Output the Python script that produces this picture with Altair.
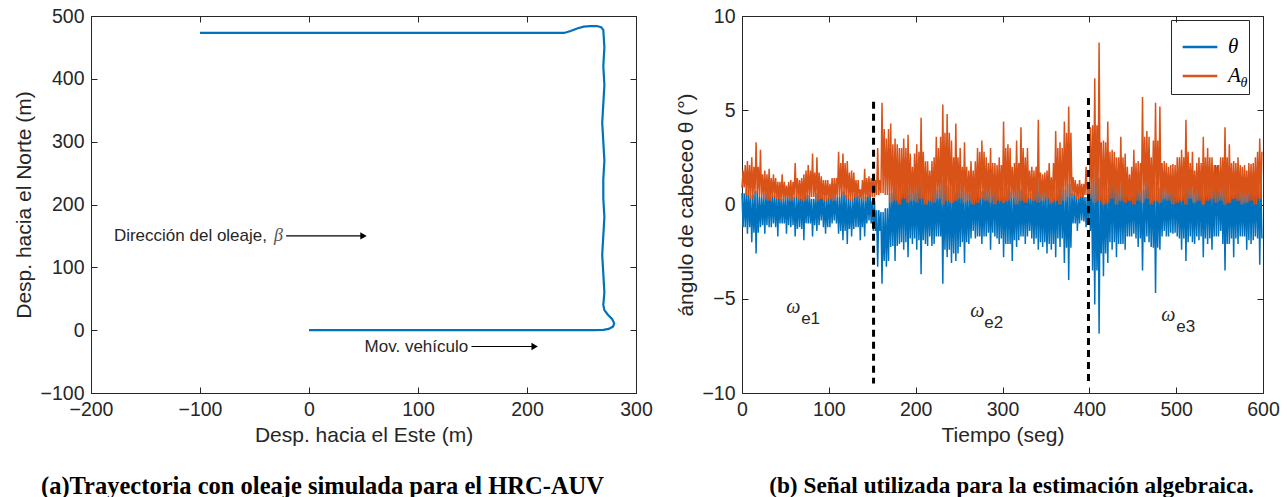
import altair as alt
import pandas as pd

# ---------------- Panel (a): trajectory ----------------
TRAJ_X = [0, 40, 80, 120, 160, 200, 240, 262, 270, 275, 279, 280, 278, 274, 271, 270,
          271, 270, 269, 270, 271, 270, 270, 271, 270, 269, 270, 271, 270, 271, 270, 268,
          264, 258, 252, 246, 240, 234, 200, 150, 100, 50, 0, -50, -100]
TRAJ_Y = [0, 0, 0, 0, 0, 0, 0, 0, 0.5, 2, 6, 11, 18, 25, 32, 40,
          60, 90, 120, 150, 180, 210, 240, 270, 300, 330, 360, 390, 420, 450, 478, 482,
          484, 484, 483, 480, 476, 473, 473, 473, 473, 473, 473, 473, 473]

ARROW_X1 = [-21, 149]
ARROW_X2 = [50, 207]
ARROW_Y = [150, -26]

# ---------------- Panel (b): pitch signal ----------------
# spike readings every 5 s (t = 0, 5, ..., 595)
A_HI = [1.8, 2.3, 2.5, 3.3, 2.9, 1.8, 1.9, 1.6, 1.2, 1.6,
        1.0, 1.3, 2.2, 1.3, 1.6, 2.1, 2.7, 2.5, 1.5, 1.3,
        1.1, 1.4, 2.8, 2.7, 2.3, 1.8, 1.3, 0.8, 1.9, 1.5,
        1.6, 3.0, 5.4, 3.5, 4.3, 3.5, 3.0, 3.5, 3.7, 2.0,
        3.2, 4.6, 2.3, 1.8, 2.5, 3.0, 5.3, 4.8, 3.4, 4.3,
        3.0, 3.3, 1.8, 1.8, 3.0, 3.4, 2.5, 3.0, 2.2, 2.5,
        4.4, 3.2, 2.0, 3.4, 4.1, 2.5, 1.8, 1.8, 4.5, 1.6,
        1.8, 1.45, 3.9, 3.3, 4.4, 5.2, 1.45, 1.1, 1.1, 2.0,
        4.1, 6.7, 8.6, 3.4, 4.4, 2.9, 2.5, 3.6, 2.7, 1.6,
        2.9, 2.3, 5.7, 3.9, 2.5, 5.4, 5.2, 2.3, 2.0, 2.15,
        2.5, 2.9, 4.5, 2.2, 1.8, 2.5, 3.6, 3.0, 2.5, 2.0,
        2.5, 4.1, 3.2, 2.3, 2.5, 2.0, 1.8, 2.15, 2.5, 3.5]
A_LO = [0.9, 0.5, 0.3, 0.6, 0.4, 0.3, 0.2, 0.4, 0.3, 0.2,
        0.3, 0.2, 0.4, 0.3, 0.2, 0.3, 0.4, 0.2, 0.3, 0.2,
        0.3, 0.2, 0.4, 0.5, 0.3, 0.2, 0.4, 0.3, 0.2, 0.4,
        0.4, 0.5, 0.6, 0.5, 0.1, 0.2, 0.0, 0.3, 0.1, 0.2,
        0.1, 0.3, 0.0, 0.2, 0.1, 0.3, 0.0, 0.2, 0.1, 0.2,
        0.3, 0.1, 0.2, 0.0, 0.1, 0.3, 0.2, 0.1, 0.0, 0.2,
        0.1, 0.2, 0.3, 0.0, 0.2, 0.1, 0.3, 0.2, 0.1, 0.2,
        0.3, 0.1, 0.2, 0.0, 0.2, 0.4, 0.5, 0.3, 0.4, 0.5,
        0.3, 0.1, 0.2, 0.0, 0.1, 0.3, 0.0, 0.2, 0.1, 0.2,
        0.0, 0.2, 0.1, 0.3, 0.0, 0.2, 0.1, 0.3, 0.2, 0.0,
        0.1, 0.2, 0.0, 0.3, 0.1, 0.2, 0.0, 0.2, 0.3, 0.1,
        0.2, 0.0, 0.1, 0.3, 0.2, 0.0, 0.1, 0.2, 0.0, 0.3]
TH_HI = [0.6, 0.8, 0.5, 0.7, 0.4, 0.6, 0.8, 0.5, 0.6, 0.3,
         0.5, 0.7, 0.4, 0.6, 0.8, 0.5, 0.3, 0.6, 0.7, 0.4,
         0.5, 0.6, 0.4, 0.7, 0.5, 0.3, 0.6, 0.5, 0.4, 0.6,
         0.2, -0.3, -0.4, -0.2, 0.6, 1.2, 0.9, 1.6, 1.0, 0.8,
         1.2, 1.5, 0.9, 0.7, 1.1, 0.8, 1.3, 1.0, 0.9, 1.4,
         1.0, 0.8, 0.6, 0.9, 1.2, 0.7, 1.0, 0.8, 1.3, 0.9,
         1.2, 0.9, 0.7, 1.0, 0.8, 1.1, 0.6, 0.9, 1.3, 0.8,
         0.7, 0.9, 1.0, 1.2, 0.8, 1.1, 0.6, 0.5, 0.7, 0.4,
         1.0, 1.8, 1.4, 1.2, 0.9, 2.1, 1.3, 1.0, 1.5, 0.9,
         1.1, 1.4, 0.8, 1.6, 1.0, 1.2, 0.9, 0.8, 1.1, 1.3,
         1.0, 0.9, 1.5, 1.1, 0.8, 1.2, 1.0, 1.3, 0.9, 2.1,
         1.0, 1.2, 0.9, 1.4, 1.1, 0.8, 1.0, 1.5, 1.2, 1.4]
TH_LO = [-1.2, -1.55, -2.0, -2.6, -1.2, -1.55, -1.2, -1.0, -1.7, -1.0,
         -1.55, -1.2, -1.7, -1.2, -1.9, -1.0, -1.7, -1.4, -0.85, -1.55,
         -1.2, -0.85, -1.55, -1.9, -2.1, -1.7, -1.2, -1.9, -1.7, -0.85,
         -1.4, -3.3, -4.2, -3.3, -2.25, -3.0, -2.1, -2.4, -2.8, -2.1,
         -2.4, -3.7, -2.1, -1.7, -2.1, -1.7, -4.2, -2.8, -3.1, -3.0,
         -2.25, -3.1, -2.1, -1.4, -1.7, -2.1, -1.7, -2.4, -1.7, -2.1,
         -2.8, -2.1, -3.0, -2.25, -1.7, -2.1, -1.4, -2.1, -2.4, -2.25,
         -2.6, -2.4, -2.8, -2.25, -3.1, -4.0, -1.0, -1.4, -0.85, -1.2,
         -1.4, -5.3, -6.85, -3.8, -3.1, -2.4, -2.8, -2.1, -2.4, -1.7,
         -1.55, -2.25, -3.5, -1.7, -2.25, -4.7, -2.4, -1.4, -1.7, -1.55,
         -1.7, -2.4, -3.0, -1.7, -2.1, -1.9, -2.8, -2.1, -2.4, -1.7,
         -1.4, -3.5, -2.1, -2.8, -2.1, -1.7, -2.4, -2.1, -1.7, -3.2]
# denser "core" extent of each band, read every 10 s (t = 0, 10, ..., 590)
TH_CORE = [-1.2, -1.5, -1.1, -1.2, -1.0, -1.1, -1.3, -1.0, -1.1, -1.2,
           -1.0, -1.4, -1.3, -1.2, -1.0, -1.4, -3.0, -2.2, -2.0, -1.8,
           -1.9, -2.2, -1.7, -2.4, -2.6, -2.0, -1.8, -1.7, -1.5, -1.8,
           -2.1, -1.9, -1.7, -1.8, -2.0, -2.1, -1.8, -2.3, -1.0, -0.9,
           -3.5, -2.6, -2.0, -2.1, -1.7, -1.8, -2.0, -2.3, -1.7, -1.5,
           -1.8, -2.0, -1.7, -1.8, -1.7, -2.1, -1.8, -1.7, -1.9, -1.8]
A_CORE = [2.1, 2.0, 1.6, 1.4, 1.2, 1.2, 1.4, 1.8, 1.7, 1.3,
          1.4, 2.2, 1.7, 1.3, 1.4, 1.3, 4.0, 3.2, 3.0, 2.7,
          2.8, 2.3, 3.6, 3.8, 2.5, 2.0, 2.3, 2.8, 2.2, 2.1,
          3.0, 2.2, 3.0, 2.0, 1.7, 2.2, 3.0, 3.8, 1.3, 1.1,
          4.2, 3.3, 2.8, 2.5, 2.0, 2.2, 3.6, 3.4, 2.2, 2.1,
          2.5, 2.8, 2.2, 2.5, 2.1, 2.5, 2.2, 2.1, 2.2, 2.8]
STEP = 5

DASH_T = [151.5, 399]
DASH_TOP = [5.45, 5.65]
DASH_BOT = [-9.5, -9.5]

OMEGA_T = [59, 271, 491]
OMEGA_V = [-5.45, -5.65, -5.85]
SUB_T = [79, 290, 511]
SUB_V = [-6.1, -6.3, -6.5]
SUB_TXT = ["e1", "e2", "e3"]

BLUE = "#0072BD"
ORANGE = "#D95319"
TXT = "#262626"
FONT = "Liberation Sans"
SERIF = "Liberation Serif"
FS = 19.5
TFS = 21

W1, H1 = 545, 377
W2, H2 = 521, 377

# ---------- build tables ----------
traj = pd.DataFrame({"x": TRAJ_X, "y": TRAJ_Y, "i": list(range(len(TRAJ_X)))})
arrows = pd.DataFrame({"x1": ARROW_X1, "x2": ARROW_X2, "y": ARROW_Y})


def build(hi, lo, core, name):
    rows = []
    q = STEP / 4
    for k in range(len(hi)):
        t0 = k * STEP
        c = core[k // 2]
        rows += [{"t": t0, "v": hi[k], "s": name},
                 {"t": t0 + q, "v": lo[k], "s": name},
                 {"t": t0 + 2 * q, "v": hi[k], "s": name},
                 {"t": t0 + 3 * q, "v": c, "s": name}]
    d = pd.DataFrame(rows)
    d["o"] = range(len(d))
    return d


sig_th = build(TH_HI, TH_LO, TH_CORE, "theta")
sig_a = build(A_LO, A_HI, A_CORE, "A")

dashes = pd.DataFrame({"t": DASH_T, "top": DASH_TOP, "bot": DASH_BOT})
omega = pd.DataFrame({"t": OMEGA_T, "v": OMEGA_V})
subs = pd.DataFrame({"t": SUB_T, "v": SUB_V, "txt": SUB_TXT})


def tick_layers(data, xf, yf, W, H, xdom, ydom, xvals, yvals):
    base = alt.Chart(data).mark_point(opacity=0)
    kw = dict(labels=False, domain=False, title=None, grid=False, ticks=True,
              tickSize=6, tickColor=TXT, tickWidth=1)
    xs = alt.Scale(domain=xdom, nice=False, zero=False)
    ys = alt.Scale(domain=ydom, nice=False, zero=False)
    a = base.encode(
        x=alt.X(f"{xf}:Q", scale=xs, axis=alt.Axis(orient="top", offset=-H, values=xvals, **kw)),
        y=alt.Y(f"{yf}:Q", scale=ys, axis=alt.Axis(orient="right", offset=-W, values=yvals, **kw)),
    )
    b = base.encode(
        x=alt.X(f"{xf}:Q", scale=xs, axis=alt.Axis(orient="bottom", offset=-H, values=xvals, **kw)),
        y=alt.Y(f"{yf}:Q", scale=ys, axis=alt.Axis(orient="left", offset=-W, values=yvals, **kw)),
    )
    return [a, b]


def main_axis(values, title, orient, lp, tp):
    return alt.Axis(values=values, title=title, orient=orient, ticks=False, domain=False,
                    grid=False, labelFont=FONT, labelFontSize=FS, labelColor=TXT,
                    titleFont=FONT, titleFontSize=TFS, titleColor=TXT, titleFontWeight="normal",
                    labelPadding=lp, titlePadding=tp, labelFlush=False)


# ---------- panel a ----------
XD1, YD1 = [-200, 300], [-100, 500]
XV1, YV1 = [-200, -100, 0, 100, 200, 300], [-100, 0, 100, 200, 300, 400, 500]
xs1 = alt.Scale(domain=XD1, nice=False, zero=False)
ys1 = alt.Scale(domain=YD1, nice=False, zero=False)

traj_line = alt.Chart(traj).mark_line(color=BLUE, strokeWidth=2.2).encode(
    x=alt.X("x:Q", scale=xs1, axis=main_axis(XV1, "Desp. hacia el Este (m)", "bottom", 7, 6)),
    y=alt.Y("y:Q", scale=ys1, axis=main_axis(YV1, "Desp. hacia el Norte (m)", "left", 7, 6)),
    order="i:Q",
)
arrow_shaft = alt.Chart(arrows).mark_rule(color="black", strokeWidth=1.2).encode(
    x=alt.X("x1:Q", scale=xs1, axis=None), x2="x2:Q", y=alt.Y("y:Q", scale=ys1, axis=None))
arrow_head = alt.Chart(arrows).mark_point(shape="triangle-right", filled=True, color="black",
                                          size=55, opacity=1).encode(
    x=alt.X("x2:Q", scale=xs1, axis=None), y=alt.Y("y:Q", scale=ys1, axis=None))
lab_a = pd.DataFrame({"x": [-179, 51], "y": [150, -26],
                      "txt": ["Dirección del oleaje,", "Mov. vehículo"]})
arrow_text = alt.Chart(lab_a).mark_text(align="left", baseline="middle", font=FONT,
                                        fontSize=17, color=TXT).encode(
    x=alt.X("x:Q", scale=xs1, axis=None), y=alt.Y("y:Q", scale=ys1, axis=None), text="txt:N")
beta = alt.Chart(pd.DataFrame({"x": [-32], "y": [150], "txt": ["β"]})).mark_text(
    align="left", baseline="middle", font=SERIF, fontStyle="italic", fontSize=18,
    color="#555555").encode(x=alt.X("x:Q", scale=xs1, axis=None),
                            y=alt.Y("y:Q", scale=ys1, axis=None), text="txt:N")

panel_a = alt.layer(
    traj_line, arrow_shaft, arrow_head, arrow_text, beta,
    *tick_layers(traj, "x", "y", W1, H1, XD1, YD1, XV1, YV1)
).resolve_axis(x="independent", y="independent").properties(
    width=W1, height=H1,
    title=alt.TitleParams("(a)Trayectoria con oleaje simulada para el HRC-AUV", orient="bottom",
                          font=SERIF, fontWeight="bold", fontSize=24.5, color="black",
                          anchor="middle", dx=-41, offset=29),
)

# ---------- panel b ----------
XD2, YD2 = [0, 600], [-10, 10]
XV2, YV2 = [0, 100, 200, 300, 400, 500, 600], [-10, -5, 0, 5, 10]
xs2 = alt.Scale(domain=XD2, nice=False, zero=False)
ys2 = alt.Scale(domain=YD2, nice=False, zero=False)
cscale = alt.Scale(domain=["theta", "A"], range=[BLUE, ORANGE])
leg = alt.Legend(title=None, orient="none", legendX=429, legendY=4,
                 strokeColor=TXT, padding=8, symbolType="stroke", symbolSize=1200,
                 symbolStrokeWidth=2.5, symbolOffset=2, labelFont=SERIF, labelFontStyle="italic",
                 labelFontSize=21, labelColor="black", rowPadding=0, labelOffset=9,
                 labelExpr="datum.label == 'theta' ? 'θ' : 'A'")

line_th = alt.Chart(sig_th).mark_line(strokeWidth=1.5).encode(
    x=alt.X("t:Q", scale=xs2, axis=main_axis(XV2, "Tiempo (seg)", "bottom", 7, 6)),
    y=alt.Y("v:Q", scale=ys2, axis=main_axis(YV2, "ángulo de cabeceo θ (°)", "left", 7, 5)),
    color=alt.Color("s:N", scale=cscale, legend=leg),
    order="o:Q",
)
line_a = alt.Chart(sig_a).mark_line(strokeWidth=1.5).encode(
    x=alt.X("t:Q", scale=xs2, axis=None), y=alt.Y("v:Q", scale=ys2, axis=None),
    color=alt.Color("s:N", scale=cscale, legend=leg),
    order="o:Q",
)
dash = alt.Chart(dashes).mark_rule(color="black", strokeWidth=3, strokeDash=[7, 5]).encode(
    x=alt.X("t:Q", scale=xs2, axis=None), y=alt.Y("top:Q", scale=ys2, axis=None), y2="bot:Q")
om = alt.Chart(omega).mark_text(text="ω", font=SERIF, fontStyle="italic", fontSize=20,
                                color=TXT, baseline="middle").encode(
    x=alt.X("t:Q", scale=xs2, axis=None), y=alt.Y("v:Q", scale=ys2, axis=None))
sb = alt.Chart(subs).mark_text(font=FONT, fontSize=17, color=TXT, baseline="middle").encode(
    x=alt.X("t:Q", scale=xs2, axis=None), y=alt.Y("v:Q", scale=ys2, axis=None), text="txt:N")
leg_sub = alt.Chart(pd.DataFrame({"k": [0]})).mark_text(
    text="θ", font=SERIF, fontStyle="italic", fontSize=14, color="black").encode(
    x=alt.value(502), y=alt.value(67))

panel_b = alt.layer(
    line_th, line_a, dash, om, sb, leg_sub,
    *tick_layers(sig_th, "t", "v", W2, H2, XD2, YD2, XV2, YV2)
).resolve_axis(x="independent", y="independent").properties(
    width=W2, height=H2,
    title=alt.TitleParams("(b) Señal utilizada para la estimación algebraica.", orient="bottom",
                          font=SERIF, fontWeight="bold", fontSize=23.3, color="black",
                          anchor="middle", dx=9, offset=29),
)

chart = alt.hconcat(panel_a, panel_b, spacing=22).resolve_legend(color="independent").properties(
    padding={"left": 12, "top": 5, "right": 5, "bottom": 0},
    background="white",
).configure_view(stroke=TXT, strokeWidth=1)

chart.save("out.html", embed_options={"renderer": "svg", "actions": False})
